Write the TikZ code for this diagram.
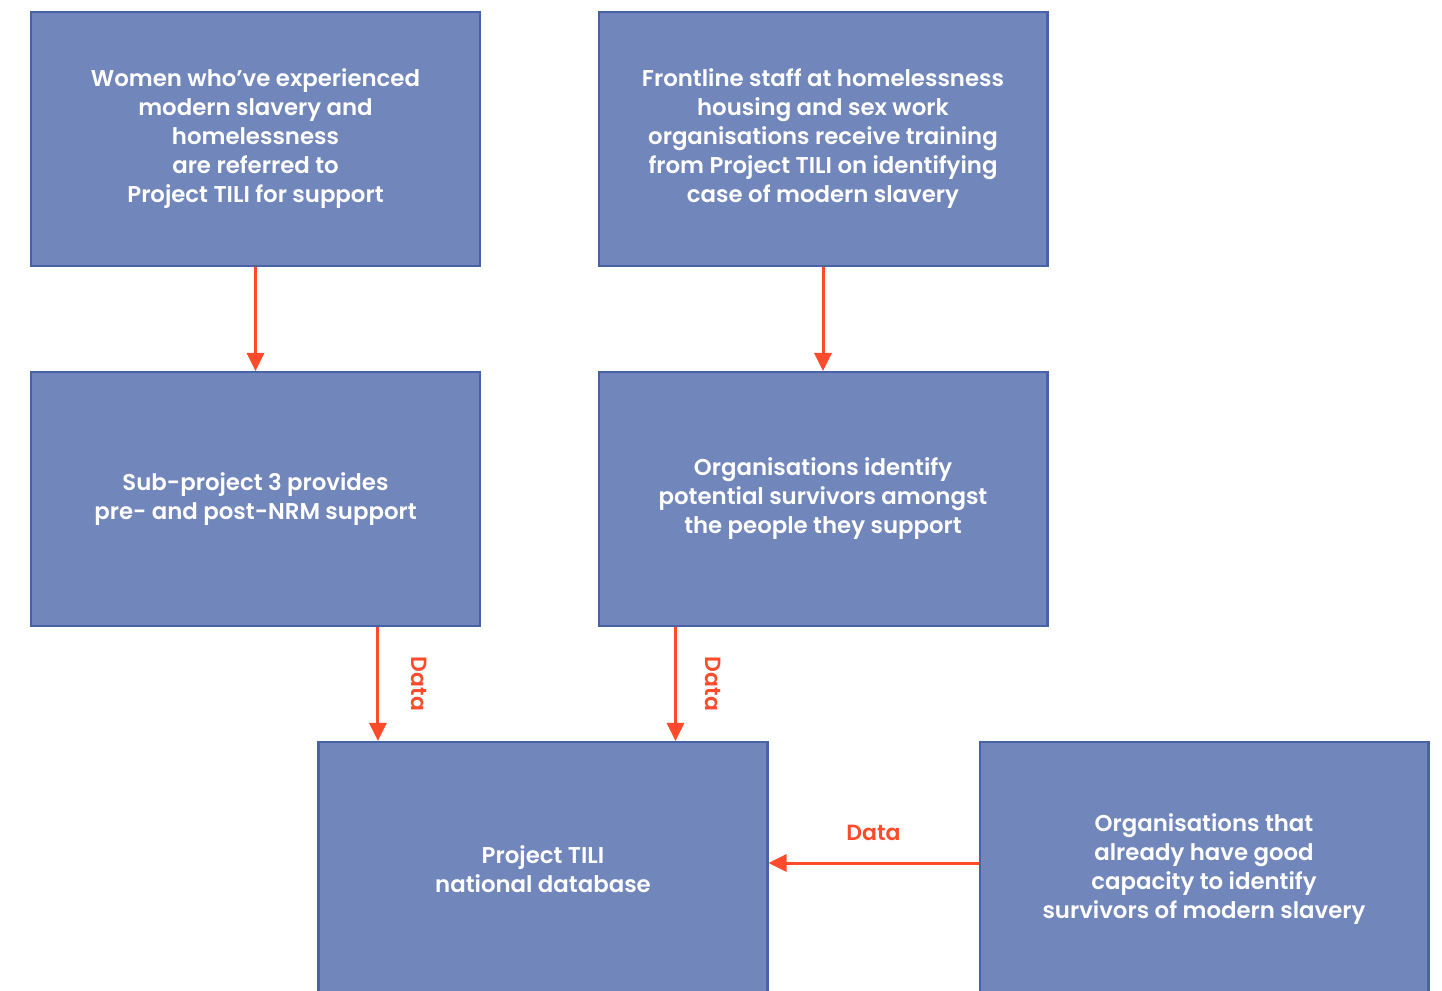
\documentclass[tikz,border=0pt]{standalone}
\usepackage{fontspec}
\setmainfont{Poppins}[UprightFont=* SemiBold]
\usepackage{tikz}
\usetikzlibrary{arrows.meta, calc}

\definecolor{boxfill}{HTML}{7186BA}
\definecolor{boxline}{HTML}{4862A6}
\definecolor{flowred}{HTML}{FF4A2B}

\tikzset{
	stepbox/.style={draw=boxline, line width=1.2pt, fill=boxfill, text=white,
		minimum width=8.98cm, minimum height=5.08cm, inner sep=0pt,
		align=center, font=\fontsize{13}{16.5}\selectfont},
	flow/.style={->, draw=flowred, line width=1.7pt},
	datalabel/.style={text=flowred, font=\fontsize{12.5}{14}\selectfont}
}

\begin{document}
\begin{tikzpicture}[>={Triangle[length=0.36cm, width=0.34cm]}, x=0.02cm, y=-0.02cm]
			\clip (0,0) rectangle (1442,990);
			
			\node[stepbox] (women) at (255.5,139) {Women who’ve experienced\\modern slavery and\\homelessness\\are referred to\\Project TILI for support};
			\node[stepbox] (staff) at (823,139) {Frontline staff at homelessness\\housing and sex work\\organisations receive training\\from Project TILI on identifying\\case of modern slavery};
			
			\node[stepbox] (subproj) at (255.5,499) {Sub-project 3 provides\\pre- and post-NRM support};
			\node[stepbox] (identify) at (823,499) {Organisations identify\\potential survivors amongst\\the people they support};
			
			\node[stepbox] (database) at (543,869) {Project TILI\\national database};
			\node[stepbox] (capable) at (1204,869) {Organisations that\\already have good\\capacity to identify\\survivors of modern slavery};
			
			\draw[flow] (women) -- (subproj);
			\draw[flow] (staff) -- (identify);
			
			\draw[flow] ([xshift=6.96cm]subproj.south west) -- ([xshift=6.96cm]subproj.south west |- database.north)
				node[datalabel, midway, xshift=0.82cm, rotate=-90] {Data};
			\draw[flow] ([xshift=1.56cm]identify.south west) -- ([xshift=1.56cm]identify.south west |- database.north)
				node[datalabel, midway, xshift=0.76cm, rotate=-90] {Data};
			\draw[flow] ([yshift=0.12cm]capable.west) -- ([yshift=0.12cm]capable.west -| database.east)
				node[datalabel, midway, yshift=0.6cm] {Data};
		\end{tikzpicture}
\end{document}
